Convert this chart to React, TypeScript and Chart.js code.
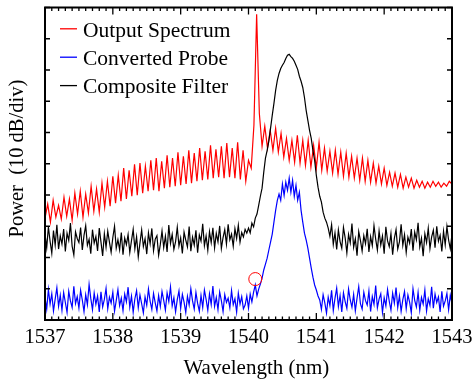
import React, { useEffect, useRef } from "react";
import { Chart, registerables } from "chart.js";

Chart.register(...registerables);

// ---------- data ----------
const xMin = 1537;
const xMax = 1543;
const xTickStep = 1;
const yMin = 0; // relative power, dB
const yMax = 100;
const yDiv = 10; // 10 dB / div

const seriesNames = ["Output Spectrum", "Converted Probe", "Composite Filter"];
const seriesColors = ["#ff0000", "#0000ff", "#000000"];

// Output spectrum (red), sampled every 0.04 nm from 1537.00 nm
const outputStart = 1537;
const outputStep = 0.04;
const outputSpectrum = [
  32.6, 37.1, 31.3, 38.3, 32.9, 36.7, 32.3, 39.3, 33.2, 38.7,
  31.9, 40.6, 33.9, 41.2, 32.9, 40.3, 34.2, 42.8, 34.8, 41.9,
  34.5, 43.8, 36.1, 44.4, 36.4, 46.0, 37.4, 46.3, 38.0, 48.6,
  38.7, 47.9, 39.6, 49.8, 39.9, 50.2, 40.6, 49.2, 41.2, 51.1,
  41.5, 51.8, 41.2, 50.8, 42.2, 52.7, 42.5, 51.8, 42.8, 53.7,
  43.1, 52.4, 43.5, 54.3, 43.8, 53.4, 44.4, 55.0, 44.7, 54.0,
  45.0, 55.9, 45.4, 54.6, 45.7, 55.6, 45.4, 56.6, 45.7, 55.0,
  45.4, 56.9, 45.0, 54.3, 44.4, 51.1, 48.6, 62.3, 97.8, 66.1,
  55.6, 62.0, 55.0, 60.7, 54.3, 61.3, 53.7, 59.7, 52.1, 58.1,
  51.1, 57.5, 50.5, 59.1, 50.2, 57.5, 49.5, 57.5, 48.9, 55.9,
  48.6, 56.9, 47.9, 55.0, 47.6, 54.0, 47.0, 54.3, 46.6, 53.7,
  46.0, 53.4, 45.7, 52.4, 45.4, 51.8, 44.7, 51.8, 44.4, 51.1,
  44.1, 50.2, 43.8, 49.2, 43.5, 48.6, 43.1, 47.3, 42.8, 47.0,
  42.5, 46.6, 42.2, 45.7, 42.5, 45.4, 42.2, 44.7, 42.5, 44.4,
  42.2, 44.1, 42.5, 44.4, 42.8, 44.1, 42.5, 43.8, 42.8, 44.4,
  43.5,
];

// Converted probe (blue) and composite filter (black), sampled every 0.025 nm from 1537.00 nm
const traceStart = 1537;
const traceStep = 0.025;
const convertedProbe = [
  7.2, 3.5, 9.8, 5.1, 8.4, 2.9, 6.7, 10.3, 4.4, 7.9,
  3.1, 8.8, 5.6, 2.4, 9.2, 6.1, 4.0, 10.8, 5.3, 7.5,
  3.8, 9.5, 6.4, 2.7, 8.1, 4.9, 11.4, 6.9, 3.3, 8.6,
  5.0, 7.7, 2.6, 9.0, 4.2, 6.6, 10.1, 3.6, 7.3, 5.4,
  8.9, 2.8, 6.2, 9.7, 4.6, 7.0, 3.0, 8.3, 5.8, 10.5,
  4.1, 7.6, 2.5, 6.8, 9.4, 3.9, 8.0, 5.2, 2.3, 7.4,
  4.7, 9.9, 6.0, 3.4, 8.5, 5.5, 2.9, 7.8, 4.3, 9.1,
  6.3, 3.2, 8.7, 5.9, 10.6, 4.5, 7.1, 2.6, 6.5, 9.3,
  3.7, 8.2, 5.7, 2.4, 7.6, 4.8, 10.0, 6.1, 3.5, 8.8,
  5.3, 2.8, 7.9, 4.0, 9.6, 6.6, 3.1, 8.4, 5.0, 10.9,
  4.4, 7.2, 3.3, 9.0, 6.2, 2.7, 8.1, 5.6, 7.0, 3.9,
  9.4, 4.9, 6.8, 2.5, 8.6, 5.1, 7.5, 3.6,
  4.8, 7.7, 3.8, 8.3, 5.8, 8.9, 11.2, 7.7, 9.9, 11.5,
  13.4, 16.0, 17.9, 19.8, 22.4, 24.9, 27.5, 31.3, 35.1, 38.3,
  40.3, 38.3, 43.5, 39.9, 44.1, 41.5, 45.4, 40.9, 44.7, 39.6,
  43.1, 38.3, 40.9, 35.1, 31.3, 27.8, 25.6, 23.0, 19.8, 16.6,
  13.7, 11.2, 9.6, 7.7, 6.4,
  3.4, 8.1, 5.5, 2.2, 7.3, 4.6, 9.5, 3.0, 6.9, 10.2,
  4.3, 7.8, 2.6, 8.7, 5.9, 3.7, 9.9, 6.4, 4.1, 8.2,
  2.9, 7.0, 10.7, 5.2, 3.5, 8.9, 6.2, 4.8, 9.3, 2.7,
  7.5, 5.0, 11.0, 3.9, 6.7, 8.4, 2.4, 7.1, 4.5, 9.7,
  6.0, 3.2, 8.6, 5.4, 10.4, 4.0, 7.7, 2.8, 6.5, 9.1,
  3.6, 8.0, 5.7, 2.3, 10.0, 6.3, 4.2, 8.8, 3.1, 7.2,
  5.1, 9.6, 2.9, 6.8, 4.7, 10.6, 3.8, 8.3, 5.6, 7.4,
  2.6, 9.2, 4.4, 6.1, 8.5, 3.3, 7.9, 5.3,
];

const compositeFilter = [
  27.5, 23.1, 29.8, 25.2, 21.4, 28.6, 24.0, 30.5, 22.7, 26.9,
  24.3, 29.1, 21.9, 27.8, 25.5, 31.0, 23.6, 20.8, 28.2, 26.1,
  24.8, 29.6, 22.4, 27.1, 30.2, 23.9, 25.8, 21.2, 28.9, 24.6,
  26.7, 22.1, 29.4, 25.0, 20.5, 27.6, 23.3, 28.4, 24.9, 21.7,
  26.4, 30.0, 23.0, 25.7, 22.5, 28.0, 20.9, 26.2, 24.1, 27.3,
  21.6, 25.4, 29.0, 22.8, 26.6, 20.2, 24.7, 28.8, 23.5, 26.0,
  21.1, 27.9, 24.4, 29.3, 22.2, 25.9, 27.0, 20.7, 24.2, 28.5,
  23.2, 26.8, 21.8, 30.4, 24.5, 27.4, 22.6, 25.1, 29.7, 23.7,
  26.3, 21.3, 28.1, 25.6, 23.4, 29.9, 22.0, 26.5, 24.0, 28.7,
  21.5, 27.2, 25.3, 30.8, 23.8, 26.9, 22.3, 28.3, 24.8, 29.5,
  23.1, 27.7, 25.0, 30.1, 22.9, 26.4, 28.9, 24.3, 30.6, 25.7,
  27.5, 23.6, 29.2, 26.1, 30.3, 24.9, 28.0, 26.6, 29.0, 27.8,
  29.4, 27.9, 31.0, 29.8, 32.6, 33.9, 36.7, 39.6, 42.2, 47.3,
  51.8, 54.3, 57.2, 61.3, 65.5, 69.3, 73.5, 76.7, 78.9, 80.5,
  81.5, 82.4, 83.7, 84.7, 85.0, 84.3, 83.7, 82.8, 81.5, 80.2,
  78.0, 76.4, 74.4, 71.2, 67.1, 63.9, 60.7, 58.1, 54.3, 51.1,
  46.3, 42.5, 39.6, 37.7, 34.5, 32.6, 31.3,
  29.4, 26.8, 30.5, 24.2, 27.9, 22.6, 28.8, 25.1, 23.0, 29.6,
  26.3, 21.5, 27.4, 24.7, 30.9, 23.3, 26.0, 20.6, 28.3, 25.5,
  22.1, 27.0, 24.4, 29.2, 21.8, 26.7, 23.8, 30.2, 25.9, 22.4,
  28.5, 24.0, 26.9, 21.2, 29.8, 25.3, 23.5, 27.7, 20.9, 26.1,
  28.9, 22.7, 25.0, 30.6, 23.9, 27.3, 21.6, 26.5, 24.6, 29.1,
  22.2, 28.1, 25.7, 31.1, 23.4, 26.2, 20.4, 27.6, 24.8, 29.4,
  22.9, 26.6, 28.7, 23.1, 30.0, 25.2, 27.1, 21.9, 28.4, 24.1,
  29.9, 25.6, 22.8, 27.5,
];

// highlighted point (red circle)
const markerX = [1540.1];
const markerY = [13.1];

// ---------- styling ----------
const FONT = "'Liberation Serif', 'Times New Roman', serif";

const toPoints = (vals: number[], start: number, step: number) =>
  vals.map((y, i) => ({ x: +(start + i * step).toFixed(3), y }));

const framePlugin = {
  id: "frameAndLegend",
  afterDraw(chart: any) {
    const { ctx, chartArea, scales } = chart;
    const { left, right, top, bottom } = chartArea;
    const xs = scales.x;
    const ys = scales.y;
    ctx.save();
    ctx.strokeStyle = "#000";
    // ticks
    ctx.lineWidth = 1.3;
    const nMinor = Math.round((xMax - xMin) / 0.1);
    for (let k = 0; k <= nMinor; k++) {
      const v = xMin + k * 0.1;
      const px = xs.getPixelForValue(v);
      const len = k % 10 === 0 ? 7 : 3.5;
      ctx.beginPath();
      ctx.moveTo(px, bottom);
      ctx.lineTo(px, bottom - len);
      ctx.moveTo(px, top);
      ctx.lineTo(px, top + len);
      ctx.stroke();
    }
    for (let v = yMin; v <= yMax; v += yDiv) {
      const py = ys.getPixelForValue(v);
      ctx.beginPath();
      ctx.moveTo(left, py);
      ctx.lineTo(left + 5, py);
      ctx.moveTo(right, py);
      ctx.lineTo(right - 5, py);
      ctx.stroke();
    }
    // frame
    ctx.lineWidth = 2;
    ctx.strokeRect(left, top, right - left, bottom - top);

    // legend inside plot
    ctx.font = `21.5px ${FONT}`;
    ctx.textBaseline = "alphabetic";
    ctx.textAlign = "left";
    seriesNames.forEach((name, i) => {
      const lineY = top + 21.3 + i * 28.4;
      ctx.strokeStyle = seriesColors[i];
      ctx.lineWidth = 1.3;
      ctx.beginPath();
      ctx.moveTo(left + 15, lineY);
      ctx.lineTo(left + 32, lineY);
      ctx.stroke();
      ctx.fillStyle = "#000";
      ctx.fillText(name, left + 38, top + 29 + i * 28.4);
    });
    ctx.restore();
  },
};

export default function App() {
  const ref = useRef<HTMLCanvasElement>(null);
  useEffect(() => {
    const canvas = ref.current;
    if (!canvas) return;
    const lineDs = (label: string, color: string, data: any[], order: number) => ({
      type: "line" as const,
      label,
      data,
      borderColor: color,
      backgroundColor: color,
      borderWidth: 1.2,
      pointRadius: 0,
      tension: 0,
      fill: false,
      order,
    });
    const chart = new Chart(canvas, {
      type: "line",
      data: {
        datasets: [
          lineDs(seriesNames[0], seriesColors[0], toPoints(outputSpectrum, outputStart, outputStep), 3),
          lineDs(seriesNames[1], seriesColors[1], toPoints(convertedProbe, traceStart, traceStep), 2),
          lineDs(seriesNames[2], seriesColors[2], toPoints(compositeFilter, traceStart, traceStep), 1),
          {
            type: "scatter" as const,
            label: "marker",
            data: markerX.map((x, i) => ({ x, y: markerY[i] })),
            pointRadius: 6.5,
            pointStyle: "circle",
            pointBorderColor: "#ff0000",
            pointBackgroundColor: "rgba(0,0,0,0)",
            pointBorderWidth: 1,
            borderColor: "#ff0000",
            backgroundColor: "rgba(0,0,0,0)",
            showLine: false,
            order: 0,
          } as any,
        ],
      },
      options: {
        responsive: false,
        animation: false,
        devicePixelRatio: 1,
        layout: { padding: { top: 7, right: 21, left: 0, bottom: 0 } },
        plugins: { legend: { display: false }, tooltip: { enabled: false } },
        scales: {
          x: {
            type: "linear",
            min: xMin,
            max: xMax,
            afterFit: (s: any) => {
              s.height = 64;
              s.paddingLeft = 0;
              s.paddingRight = 0;
            },
            ticks: {
              stepSize: xTickStep,
              callback: (v: any) => String(v),
              font: { family: FONT, size: 20.5 },
              color: "#000",
              padding: 5,
              maxRotation: 0,
              autoSkip: false,
            },
            grid: { display: false, drawTicks: false },
            border: { display: false },
            title: {
              display: true,
              text: "\u00a0\u00a0\u00a0Wavelength (nm)",
              font: { family: FONT, size: 21 },
              color: "#000",
              padding: { top: 0, bottom: 3 },
            },
          },
          y: {
            type: "linear",
            min: yMin,
            max: yMax,
            afterFit: (s: any) => {
              s.width = 45;
            },
            ticks: { display: false, stepSize: yDiv },
            grid: { display: false, drawTicks: false },
            border: { display: false },
            title: {
              display: true,
              text: "\u00a0\u00a0Power  (10 dB/div)",
              font: { family: FONT, size: 20.5 },
              color: "#000",
              padding: { top: 5, bottom: 0 },
            },
          },
        },
      },
      plugins: [framePlugin],
    });
    return () => chart.destroy();
  }, []);
  return (
    <div style={{ position: "fixed", left: 0, top: 0, width: 473, height: 384, background: "#fff" }}>
      <canvas ref={ref} width={473} height={384} style={{ display: "block" }} />
    </div>
  );
}
